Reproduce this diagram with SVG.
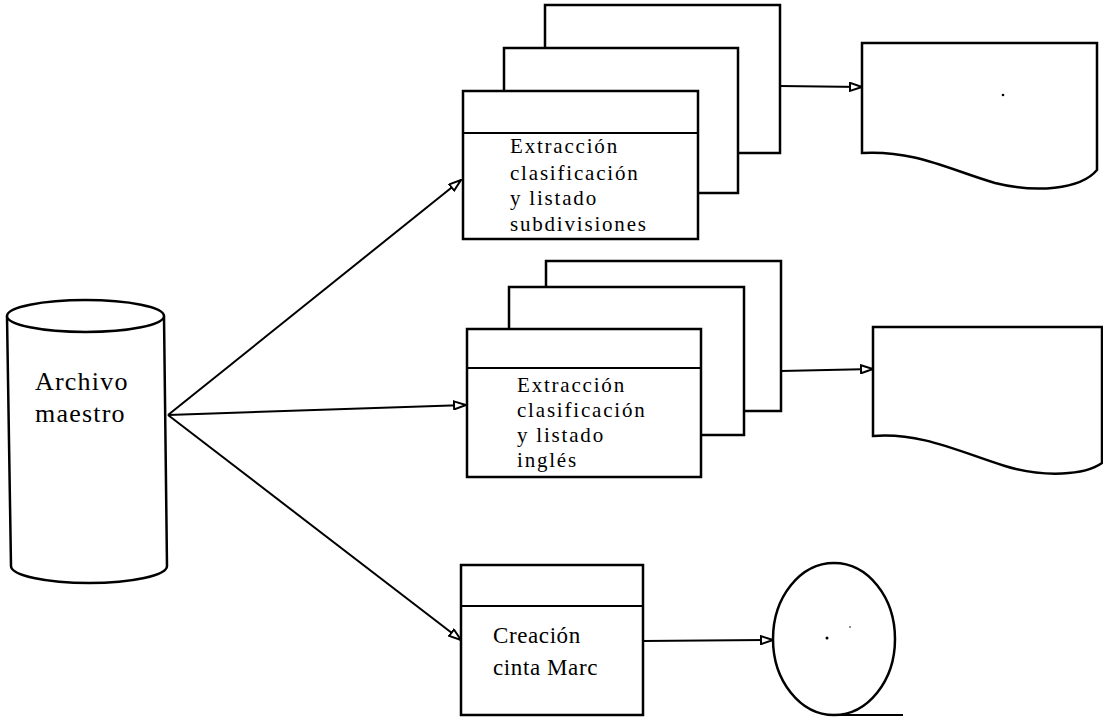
<svg xmlns="http://www.w3.org/2000/svg" width="1103" height="721" viewBox="0 0 1103 721">
<style>
.sh{fill:#fff;stroke:#000;stroke-width:2.5;stroke-linejoin:miter}
.ln{fill:none;stroke:#000;stroke-width:2}
.conn{fill:none;stroke:#000;stroke-width:2;marker-end:url(#ah)}
.t{font-family:"Liberation Serif","Times New Roman",serif;fill:#000}
.s{font-size:21px;letter-spacing:1.8px}
.b{font-size:26px;letter-spacing:1.2px}
.c{font-size:23px;letter-spacing:0.6px}
</style>
<defs>
<marker id="ah" viewBox="0 0 14 10" refX="13" refY="5" markerWidth="14" markerHeight="10" markerUnits="userSpaceOnUse" orient="auto">
<path d="M1,1 L13,5 L1,9 Z" fill="#fff" stroke="#000" stroke-width="2"/>
</marker>
</defs>
<rect width="1103" height="721" fill="#fff"/>

<g id="archivo">
<path class="sh" d="M7,316 L11,566 A78,17 0 0 0 167,566 L164,316"/>
<ellipse class="sh" cx="85.5" cy="316" rx="78.5" ry="16"/>
<text class="t b" x="35" y="390">Archivo</text>
<text class="t b" x="35" y="422">maestro</text>
</g>

<g id="proceso-subdivisiones">
<rect class="sh" x="545" y="5" width="235" height="148"/>
<rect class="sh" x="504" y="48" width="234" height="145"/>
<rect class="sh" x="463" y="91" width="235" height="148"/>
<line class="ln" x1="463" y1="133" x2="698" y2="133"/>
<text class="t s" x="510" y="153">Extracción</text>
<text class="t s" x="510" y="180">clasificación</text>
<text class="t s" x="510" y="205">y listado</text>
<text class="t s" x="510" y="231">subdivisiones</text>
</g>

<g id="proceso-ingles">
<rect class="sh" x="546" y="261" width="235" height="150"/>
<rect class="sh" x="509" y="287" width="235" height="148"/>
<rect class="sh" x="467" y="329" width="234" height="148"/>
<line class="ln" x1="467" y1="368" x2="701" y2="368"/>
<text class="t s" x="517" y="392">Extracción</text>
<text class="t s" x="517" y="417">clasificación</text>
<text class="t s" x="517" y="442">y listado</text>
<text class="t s" x="517" y="467">inglés</text>
</g>

<g id="proceso-marc">
<rect class="sh" x="461" y="565" width="182" height="150"/>
<line class="ln" x1="461" y1="606" x2="643" y2="606"/>
<text class="t c" x="493" y="643">Creación</text>
<text class="t c" x="493" y="675">cinta Marc</text>
</g>

<g id="listado-1">
<path class="sh" d="M862,153 L862,43 L1097,43 L1097,170 C1080,190 1035,193 995,183 C950,170 915,150 862,153 Z"/>
<circle cx="1003" cy="95" r="1.3" fill="#000"/>
</g>

<g id="listado-2">
<path class="sh" d="M873,436 L873,327 L1102,327 L1102,463 C1085,475 1045,478 1005,466 C960,452 920,432 873,436 Z"/>
</g>

<g id="cinta">
<ellipse class="sh" cx="834" cy="639" rx="61" ry="76"/>
<line class="ln" x1="834" y1="715" x2="903" y2="715"/>
<circle cx="827" cy="638" r="1.5" fill="#000"/>
<circle cx="850" cy="627" r="0.8" fill="#000"/>
</g>

<g id="conectores">
<line class="conn" x1="168" y1="415" x2="461" y2="180"/>
<line class="conn" x1="168" y1="415" x2="466" y2="405"/>
<line class="conn" x1="168" y1="415" x2="461" y2="640"/>
<line class="conn" x1="780" y1="86" x2="862" y2="87"/>
<line class="conn" x1="781" y1="371" x2="873" y2="369"/>
<line class="conn" x1="643" y1="641" x2="773" y2="640"/>
</g>
</svg>
